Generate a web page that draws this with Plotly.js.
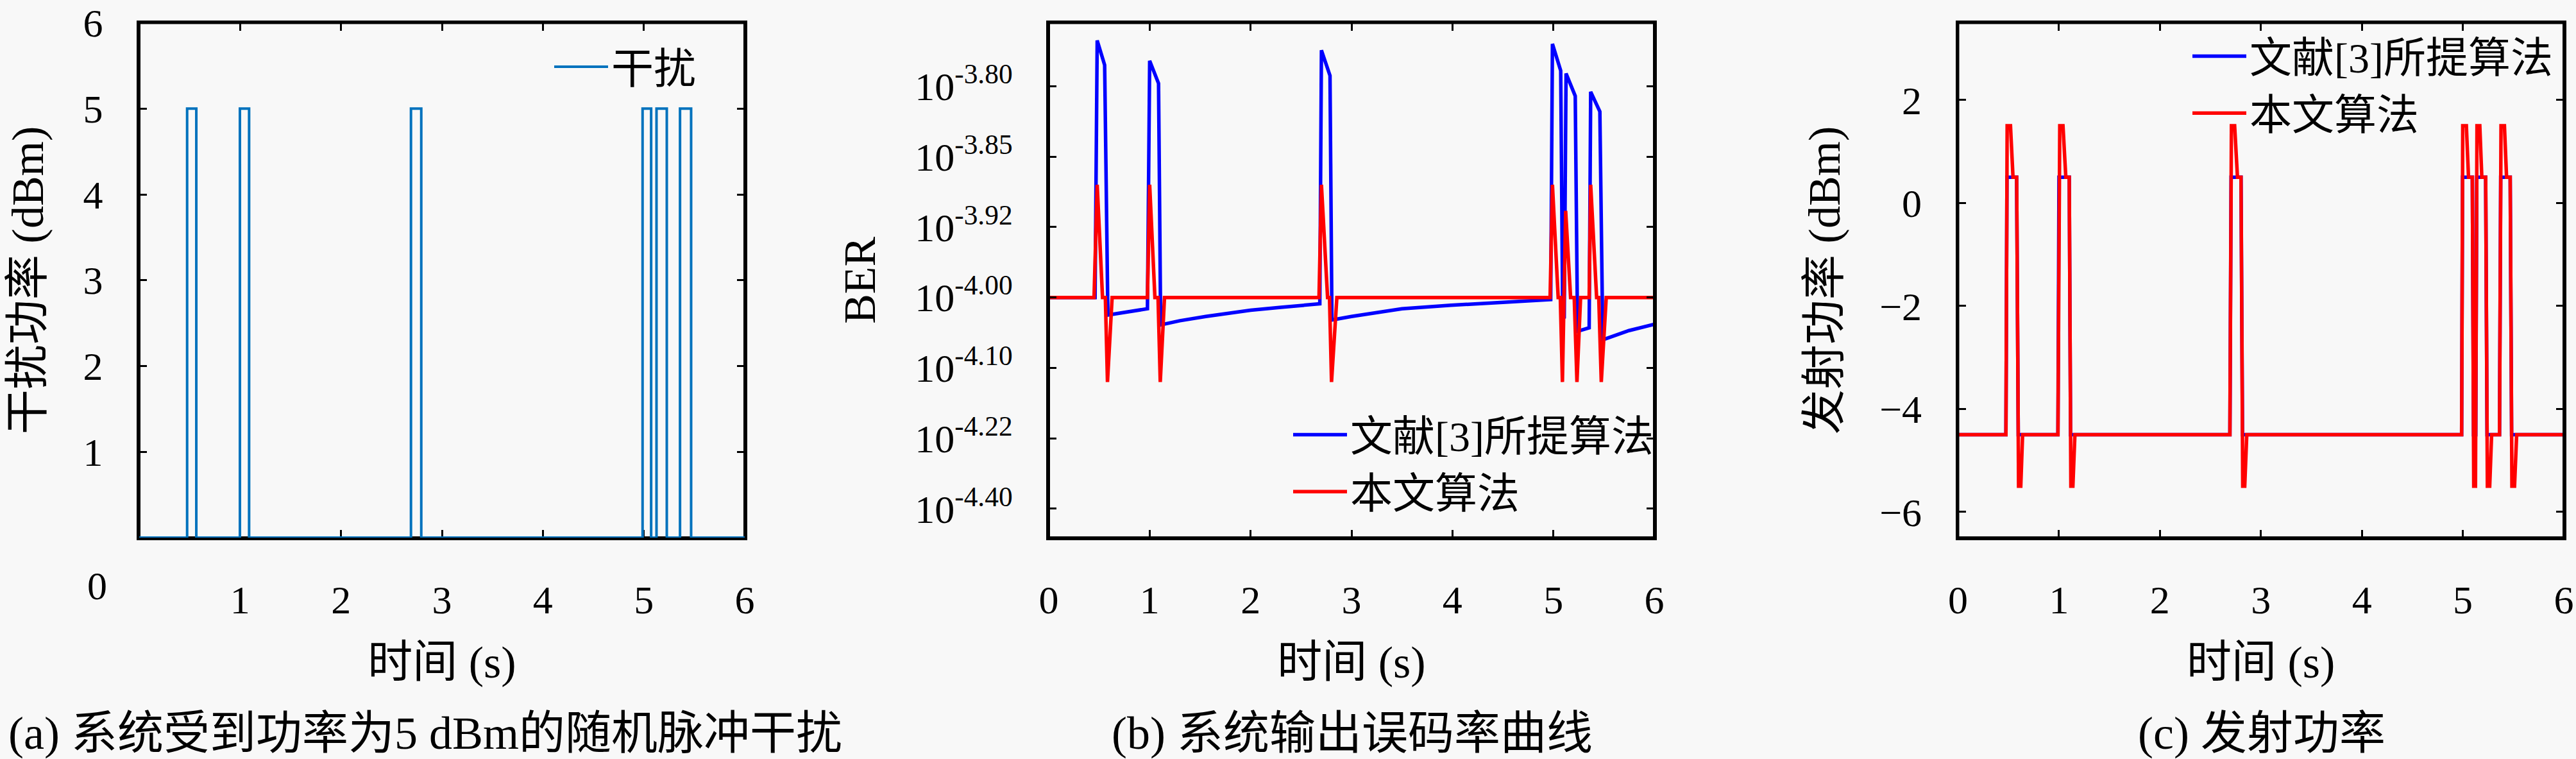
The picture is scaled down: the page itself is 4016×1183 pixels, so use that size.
<!DOCTYPE html>
<html>
<head>
<meta charset="utf-8">
<script src="https://cdn.plot.ly/plotly-3.0.1.min.js"></script>
<style>html,body{margin:0;padding:0;background:#f8f8f8}</style>
</head>
<body>
<div id="chart" style="width:4016px;height:1183px"></div>
<script>
// (a) jamming pulses, step trace (hv)
var jamT = [0, 0.475, 0.566, 0.998, 1.089, 2.693, 2.795, 4.988, 5.073, 5.126, 5.228, 5.359, 5.469, 6];
var jamP = [0, 5, 0, 5, 0, 5, 0, 5, 0, 5, 0, 5, 0, 0];

// (b) BER, y in tick-slot units (0 = 10^-4.40 ... 6 = 10^-3.80)
var berTicks = ['10<sup>-4.40</sup>', '10<sup>-4.22</sup>', '10<sup>-4.10</sup>', '10<sup>-4.00</sup>',
                '10<sup>-3.92</sup>', '10<sup>-3.85</sup>', '10<sup>-3.80</sup>'];
var berRefT = [0, 0.459, 0.48, 0.554, 0.586, 0.978, 1.0, 1.088, 1.109, 1.3, 1.556, 1.8, 2.0, 2.3, 2.686,
               2.702, 2.787, 2.806, 3.0, 3.5, 3.985, 4.5, 4.974, 4.991, 5.073, 5.093, 5.108, 5.126,
               5.217, 5.24, 5.355, 5.37, 5.461, 5.49, 5.75, 6.0];
var berRef  = [3.0, 3.0, 6.65, 6.30, 2.75, 2.84, 6.36, 6.04, 2.61, 2.67, 2.73, 2.78, 2.82, 2.86, 2.91,
               6.51, 6.15, 2.68, 2.73, 2.84, 2.89, 2.93, 2.97, 6.60, 6.22, 2.71, 2.72, 6.18,
               5.86, 2.52, 2.57, 5.92, 5.64, 2.40, 2.53, 2.62];
var berOurT = [0, 0.449, 0.48, 0.533, 0.561, 0.582, 0.628, 0.978, 1.0, 1.052, 1.083, 1.105, 1.147,
               2.678, 2.702, 2.763, 2.782, 2.802, 2.855, 4.968, 4.991, 5.048, 5.069, 5.09, 5.122,
               5.171, 5.207, 5.234, 5.27, 5.355, 5.37, 5.429, 5.45, 5.475, 5.524, 6.0];
var berOur  = [3.0, 3.0, 4.60, 3.0, 3.0, 1.80, 3.0, 3.0, 4.60, 3.0, 3.0, 1.80, 3.0,
               3.0, 4.60, 3.0, 3.0, 1.80, 3.0, 3.0, 4.60, 3.0, 3.0, 1.80, 4.23,
               3.0, 3.0, 1.80, 3.0, 3.0, 4.60, 3.0, 3.0, 1.80, 3.0, 3.0];

// (c) transmit power (dBm)
var pwrRefT = [0, 0.475, 0.485, 0.581, 0.597, 0.990, 1.0, 1.102, 1.115, 2.693, 2.705, 2.803, 2.818,
               4.988, 4.997, 5.094, 5.106, 5.128, 5.138, 5.226, 5.240, 5.363, 5.375, 5.469, 5.483, 6];
var pwrRef  = [-4.5, -4.5, 0.5, 0.5, -4.5, -4.5, 0.5, 0.5, -4.5, -4.5, 0.5, 0.5, -4.5,
               -4.5, 0.5, 0.5, -4.5, -4.5, 0.5, 0.5, -4.5, -4.5, 0.5, 0.5, -4.5, -4.5];
var pwrOurT = [0, 0.475, 0.487, 0.520, 0.545, 0.581, 0.600, 0.622, 0.640,
               0.990, 1.008, 1.040, 1.068, 1.102, 1.118, 1.138, 1.158,
               2.693, 2.708, 2.740, 2.768, 2.803, 2.820, 2.840, 2.860,
               4.988, 4.999, 5.035, 5.056, 5.094, 5.108, 5.125, 5.140, 5.168, 5.188, 5.226, 5.243, 5.266, 5.285,
               5.363, 5.378, 5.412, 5.433, 5.469, 5.486, 5.512, 5.533, 6];
var pwrOur  = [-4.5, -4.5, 1.5, 1.5, 0.5, 0.5, -5.5, -5.5, -4.5,
               -4.5, 1.5, 1.5, 0.5, 0.5, -5.5, -5.5, -4.5,
               -4.5, 1.5, 1.5, 0.5, 0.5, -5.5, -5.5, -4.5,
               -4.5, 1.5, 1.5, 0.5, 0.5, -5.5, -5.5, 1.5, 1.5, 0.5, 0.5, -5.5, -5.5, -4.5,
               -4.5, 1.5, 1.5, 0.5, 0.5, -5.5, -5.5, -4.5, -4.5];

var serif = "'Liberation Serif', 'Noto Sans CJK SC', serif";
var W = 4016, H = 1183;
var plotTop = 1 - 35.5 / H, plotBottom = 1 - 838 / H;

function axis(extra) {
  var a = {
    showline: true, linecolor: '#000', linewidth: 4, mirror: 'ticks',
    ticks: 'inside', ticklen: 12, tickwidth: 3, tickcolor: '#000',
    showgrid: false, zeroline: false, ticklabelstandoff: 40,
    tickfont: {family: serif, size: 62, color: '#000'}
  };
  for (var k in extra) a[k] = extra[k];
  return a;
}
function xtitle() {
  return {text: '时间 (s)', font: {family: serif, size: 70, color: '#000'}, standoff: 40};
}
function ytitle(t) {
  return {text: t, font: {family: serif, size: 70, color: '#000'}, standoff: 40};
}
// plot-area frame drawn in axis-domain coordinates
function frame(xa, ya, layer) {
  return {type: 'rect', xref: xa + ' domain', yref: ya + ' domain', x0: 0, x1: 1, y0: 0, y1: 1,
          line: {color: '#000', width: 4}, fillcolor: 'rgba(0,0,0,0)', layer: layer};
}

var data = [
  {x: jamT, y: jamP, type: 'scatter', mode: 'lines', line: {color: '#0072BD', width: 4, shape: 'hv'},
   name: '干扰', xaxis: 'x', yaxis: 'y', legend: 'legend'},
  {x: berRefT, y: berRef, type: 'scatter', mode: 'lines', line: {color: '#0000FF', width: 5.5},
   name: '文献[3]所提算法', xaxis: 'x2', yaxis: 'y2', legend: 'legend2'},
  {x: berOurT, y: berOur, type: 'scatter', mode: 'lines', line: {color: '#FF0000', width: 5.5},
   name: '本文算法', xaxis: 'x2', yaxis: 'y2', legend: 'legend2'},
  {x: pwrRefT, y: pwrRef, type: 'scatter', mode: 'lines', line: {color: '#0000FF', width: 5.5},
   name: '文献[3]所提算法', xaxis: 'x3', yaxis: 'y3', legend: 'legend3'},
  {x: pwrOurT, y: pwrOur, type: 'scatter', mode: 'lines', line: {color: '#FF0000', width: 5.5},
   name: '本文算法', xaxis: 'x3', yaxis: 'y3', legend: 'legend3'}
];

function legend(x, y) {
  return {x: x, y: y, xanchor: 'left', yanchor: 'middle', bgcolor: 'rgba(0,0,0,0)', borderwidth: 0,
          itemwidth: 84, font: {family: serif, size: 66, color: '#000'}};
}

var xTicks = [0, 1, 2, 3, 4, 5, 6];

var layout = {
  width: W, height: H,
  margin: {l: 0, r: 0, t: 0, b: 0, pad: 0},
  paper_bgcolor: '#f8f8f8', plot_bgcolor: '#f8f8f8',
  showlegend: true,
  xaxis: axis({domain: [217 / W, 1161 / W], range: [0, 6], tickvals: [1, 2, 3, 4, 5, 6], anchor: 'y',
               title: xtitle(), layer: 'below traces'}),
  yaxis: axis({domain: [plotBottom, plotTop], range: [0, 6], tickvals: [1, 2, 3, 4, 5, 6], anchor: 'x',
               title: ytitle('干扰功率 (dBm)')}),
  xaxis2: axis({domain: [1635 / W, 2579 / W], range: [0, 6], tickvals: xTicks, anchor: 'y2',
                title: xtitle()}),
  yaxis2: axis({domain: [plotBottom, plotTop], range: [-0.41, 6.9], tickvals: [0, 1, 2, 3, 4, 5, 6],
                ticktext: berTicks, anchor: 'x2', title: ytitle('BER')}),
  xaxis3: axis({domain: [3052.5 / W, 3997 / W], range: [0, 6], tickvals: xTicks, anchor: 'y3',
                title: xtitle()}),
  yaxis3: axis({domain: [plotBottom, plotTop], range: [-6.5, 3.5], tickvals: [-6, -4, -2, 0, 2], anchor: 'x3',
                title: ytitle('发射功率 (dBm)')}),
  shapes: [frame('x', 'y', 'below'), frame('x2', 'y2', 'above'), frame('x3', 'y3', 'above')],
  legend: legend(859 / W, 1 - 104 / H),
  legend2: legend(2011 / W, 1 - 722 / H),
  legend3: legend(3413 / W, 1 - 132 / H),
  annotations: [
    {text: '0', x: 151.5 / W, y: 1 - 913 / H, xref: 'paper', yref: 'paper', showarrow: false,
     xanchor: 'center', yanchor: 'middle', font: {family: serif, size: 62, color: '#000'}},
    {text: '(a) 系统受到功率为5 dBm的随机脉冲干扰', x: 663 / W, y: 1 - 1143 / H, xref: 'paper', yref: 'paper',
     showarrow: false, xanchor: 'center', yanchor: 'middle', font: {family: serif, size: 72, color: '#000'}},
    {text: '(b) 系统输出误码率曲线', x: 2108 / W, y: 1 - 1143 / H, xref: 'paper', yref: 'paper',
     showarrow: false, xanchor: 'center', yanchor: 'middle', font: {family: serif, size: 72, color: '#000'}},
    {text: '(c) 发射功率', x: 3526 / W, y: 1 - 1143 / H, xref: 'paper', yref: 'paper',
     showarrow: false, xanchor: 'center', yanchor: 'middle', font: {family: serif, size: 72, color: '#000'}}
  ]
};

Plotly.newPlot('chart', data, layout, {displayModeBar: false, staticPlot: true});
</script>
</body>
</html>
